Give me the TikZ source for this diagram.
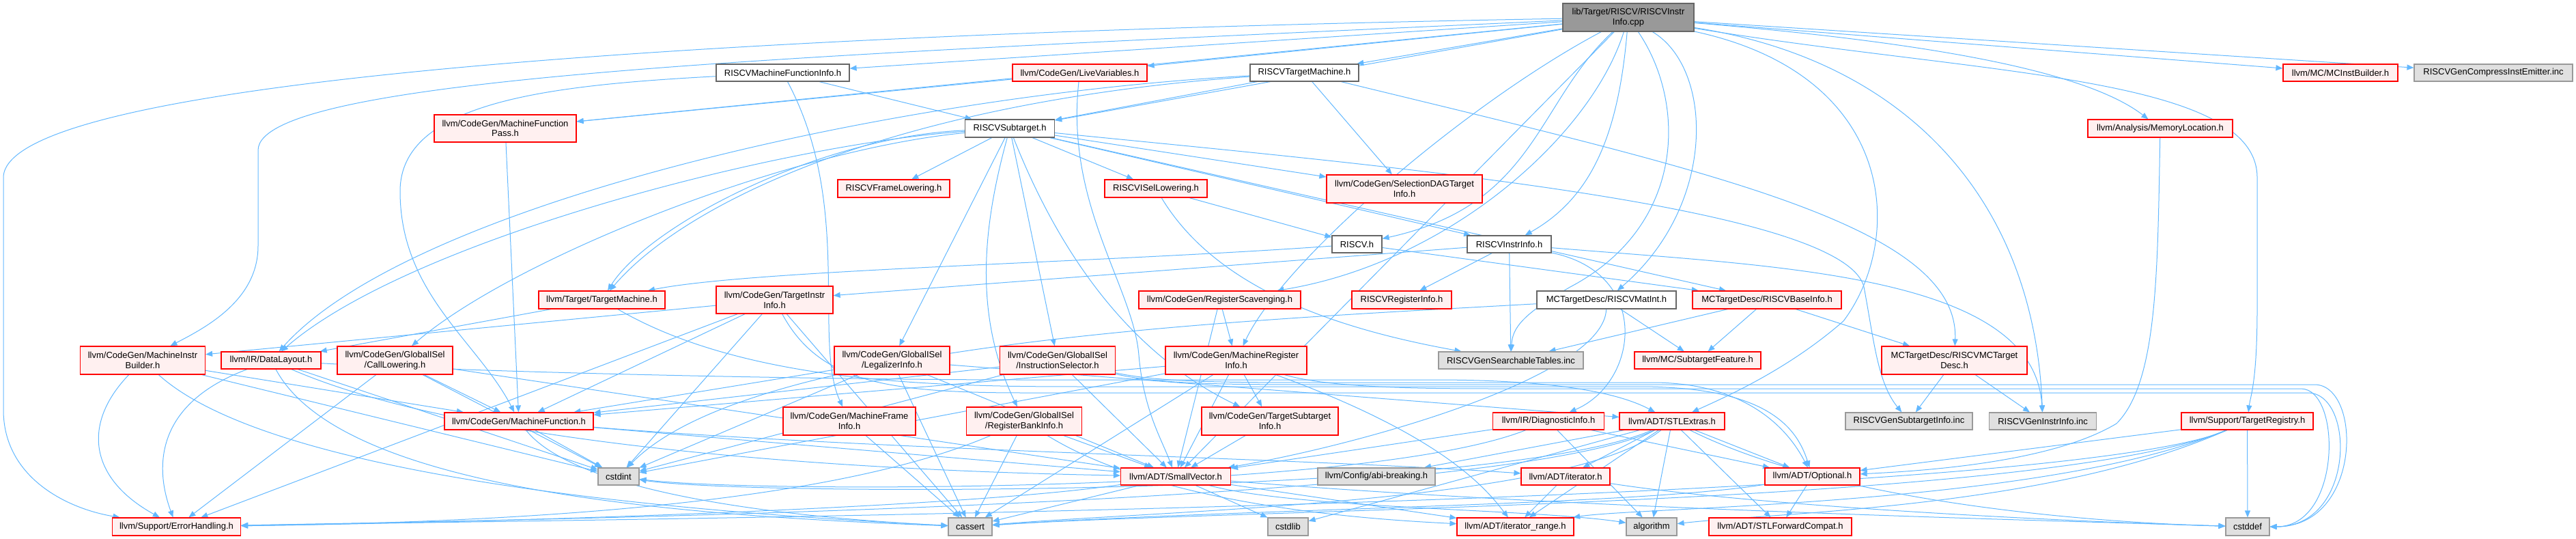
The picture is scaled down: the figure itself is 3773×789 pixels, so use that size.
\documentclass[tikz,border=0pt]{standalone}
\usepackage{fontspec}
\setmainfont{Liberation Sans}
\usetikzlibrary{arrows.meta}
\pgfdeclarelayer{bg}
\pgfsetlayers{bg,main}
\definecolor{edgec}{HTML}{63B8FF}
\definecolor{redfill}{HTML}{FFF0F0}
\definecolor{greyfill}{HTML}{E0E0E0}
\definecolor{greyline}{HTML}{999999}
\definecolor{darkline}{HTML}{666666}
\definecolor{rootfill}{HTML}{999999}
\newcommand\nodefont{\fontsize{13}{14.7}\selectfont}
\tikzset{
  box/.style={rectangle, inner sep=0pt, align=center, font=\nodefont, line width=1.2pt},
  rn/.style 2 args={box, draw=red, fill=redfill, minimum width=#1pt, minimum height=#2pt},
  wn/.style 2 args={box, draw=darkline, fill=white, minimum width=#1pt, minimum height=#2pt},
  gn/.style 2 args={box, draw=greyline, fill=greyfill, minimum width=#1pt, minimum height=#2pt},
  rootn/.style 2 args={box, draw=darkline, fill=rootfill, minimum width=#1pt, minimum height=#2pt},
  ed/.style={draw=edgec, line width=1pt, -{Triangle[length=10pt,width=8pt]}}
}
\begin{document}
\begin{tikzpicture}[x=1pt,y=-1pt]
\useasboundingbox (0,0) rectangle (3773,789);
% ---------- nodes ----------
\node[rootn={192}{41}] (root) at (2385,25.5) {lib/Target/RISCV/RISCVInstr\\Info.cpp};
\node[wn={195}{25}] (mfi) at (1146.5,106.5) {RISCVMachineFunctionInfo.h};
\node[rn={197}{25}] (lv) at (1581.5,106.5) {llvm/CodeGen/LiveVariables.h};
\node[wn={159}{25}] (rtm) at (1910.5,106.5) {RISCVTargetMachine.h};
\node[rn={168}{25}] (mcib) at (3428,106.5) {llvm/MC/MCInstBuilder.h};
\node[gn={232}{25}] (gci) at (3652,106.5) {RISCVGenCompressInstEmitter.inc};
\node[rn={208}{40}] (mfp) at (740,188) {llvm/CodeGen/MachineFunction\\Pass.h};
\node[wn={131}{26}] (sub) at (1479,188) {RISCVSubtarget.h};
\node[rn={212}{26}] (ml) at (3164,188) {llvm/Analysis/MemoryLocation.h};
\node[rn={164}{26}] (rfl) at (1309,276) {RISCVFrameLowering.h};
\node[rn={150}{26}] (isel) at (1693,276) {RISCVISelLowering.h};
\node[rn={228}{41}] (sdag) at (2057,276.5) {llvm/CodeGen/SelectionDAGTarget\\Info.h};
\node[wn={73}{25}] (rv) at (1987.5,357.5) {RISCV.h};
\node[wn={123}{25}] (rii) at (2210.5,357.5) {RISCVInstrInfo.h};
\node[rn={185}{26}] (tm) at (881.5,439) {llvm/Target/TargetMachine.h};
\node[rn={171}{40}] (tii) at (1134.5,439) {llvm/CodeGen/TargetInstr\\Info.h};
\node[rn={237}{26}] (rs) at (1786.5,439) {llvm/CodeGen/RegisterScavenging.h};
\node[rn={146}{26}] (rri) at (2053,439) {RISCVRegisterInfo.h};
\node[wn={204}{26}] (mat) at (2353,439) {MCTargetDesc/RISCVMatInt.h};
\node[rn={218}{26}] (bi) at (2588,439) {MCTargetDesc/RISCVBaseInfo.h};
\node[rn={183}{41}] (mib) at (209,527.5) {llvm/CodeGen/MachineInstr\\Builder.h};
\node[rn={146}{25}] (dl) at (397,527.5) {llvm/IR/DataLayout.h};
\node[rn={169}{41}] (cl) at (578.5,527.5) {llvm/CodeGen/GlobalISel\\/CallLowering.h};
\node[rn={169}{41}] (li) at (1306.5,527.5) {llvm/CodeGen/GlobalISel\\/LegalizerInfo.h};
\node[rn={169}{41}] (is) at (1549,527.5) {llvm/CodeGen/GlobalISel\\/InstructionSelector.h};
\node[rn={207}{41}] (mri) at (1810.5,527.5) {llvm/CodeGen/MachineRegister\\Info.h};
\node[gn={212}{25}] (gst) at (2213,527.5) {RISCVGenSearchableTables.inc};
\node[rn={185}{25}] (sf) at (2486.5,527.5) {llvm/MC/SubtargetFeature.h};
\node[rn={213}{41}] (mcd) at (2862.5,527.5) {MCTargetDesc/RISCVMCTarget\\Desc.h};
\node[rn={218}{25}] (mf) at (760,616.5) {llvm/CodeGen/MachineFunction.h};
\node[rn={194}{41}] (mfri) at (1244,616.5) {llvm/CodeGen/MachineFrame\\Info.h};
\node[rn={169}{41}] (rbi) at (1500,616.5) {llvm/CodeGen/GlobalISel\\/RegisterBankInfo.h};
\node[rn={200}{41}] (tsi) at (1860,616.5) {llvm/CodeGen/TargetSubtarget\\Info.h};
\node[rn={163}{25}] (di) at (2268,616.5) {llvm/IR/DiagnosticInfo.h};
\node[rn={154}{25}] (stl) at (2449,616.5) {llvm/ADT/STLExtras.h};
\node[gn={186}{25}] (gsi) at (2796,616.5) {RISCVGenSubtargetInfo.inc};
\node[gn={157}{25}] (gii) at (2992,616.5) {RISCVGenInstrInfo.inc};
\node[rn={193}{25}] (treg) at (3291.5,616.5) {llvm/Support/TargetRegistry.h};
\node[gn={60}{25}] (cstdint) at (906,697.5) {cstdint};
\node[rn={161}{25}] (sv) at (1722,697.5) {llvm/ADT/SmallVector.h};
\node[gn={172}{25}] (abi) at (2016,697.5) {llvm/Config/abi-breaking.h};
\node[rn={130}{25}] (it) at (2293,697.5) {llvm/ADT/iterator.h};
\node[rn={139}{25}] (opt) at (2654.5,697.5) {llvm/ADT/Optional.h};
\node[rn={188}{26}] (eh) at (258.5,771) {llvm/Support/ErrorHandling.h};
\node[gn={64}{26}] (cassert) at (1421,771) {cassert};
\node[gn={59}{26}] (cstdlib) at (1886.5,771) {cstdlib};
\node[rn={171}{26}] (ir) at (2219.5,771) {llvm/ADT/iterator\_range.h};
\node[gn={74}{26}] (alg) at (2419,771) {algorithm};
\node[rn={209}{26}] (stlfc) at (2607.5,771) {llvm/ADT/STLForwardCompat.h};
\node[gn={64}{26}] (cstddef) at (3292,771) {cstddef};
% ---------- edges ----------
\begin{pgfonlayer}{bg}
% root
\draw[ed] (root) -- (mfi);
\draw[ed] (root) -- (lv);
\draw[ed] (root) -- (rtm);
\draw[ed] (root) -- (mfp);
\draw[ed] (root) -- (sub);
\draw[ed] (root) -- (mcib);
\draw[ed] (root) -- (gci);
\draw[ed] (root) .. controls (2800,60) and (3050,100) .. (ml);
\draw[ed] (root) .. controls (2250,150) and (2250,300) .. (rv);
\draw[ed] (root) .. controls (2370,200) and (2330,290) .. (rii);
\draw[ed] (root) .. controls (2510,100) and (2515,300) .. (mat);
\draw[ed] (root) .. controls (2330,200) and (2120,385) .. (rs);
\draw[ed] (root) .. controls (2150,150) and (1880,380) .. (mri);
\draw[ed] (root) -- (sv);
\draw[ed] (root) .. controls (2780,110) and (2790,350) .. (2700,470) .. controls (2620,540) and (2530,580) .. (stl);
\draw[ed] (root) .. controls (2800,90) and (2980,300) .. (gii);
\draw[ed] (root) .. controls (2470,150) and (2470,330) .. (2300,420) .. controls (2230,460) and (2215,480) .. (gst);
\draw[ed] (root) .. controls (2900,110) and (3306,110) .. (3306,260) -- (3306,450) .. controls (3306,560) and (3296,580) .. (treg);
\draw[ed] (root) .. controls (1000,50) and (5,120) .. (5,260) -- (5,600) .. controls (5,700) and (100,745) .. (eh);
\draw[ed] (root) .. controls (1200,80) and (378,110) .. (378,220) -- (378,360) .. controls (378,440) and (300,480) .. (mib);
% mfi
\draw[ed] (mfi) -- (sub);
\draw[ed] (mfi) .. controls (1250,300) and (1190,500) .. (mfri);
\draw[ed] (mfi) .. controls (800,125) and (586,150) .. (586,280) .. controls (586,430) and (700,500) .. (mf);
% lv
\draw[ed] (lv) -- (mfp);
\draw[ed] (lv) .. controls (1560,300) and (1660,420) .. (1668,520) .. controls (1675,600) and (1700,640) .. (sv);
% rtm
\draw[ed] (rtm) -- (sub);
\draw[ed] (rtm) -- (sdag);
\draw[ed] (rtm) .. controls (2500,250) and (2870,330) .. (mcd);
\draw[ed] (rtm) .. controls (1300,150) and (1000,300) .. (tm);
\draw[ed] (rtm) .. controls (1300,140) and (600,300) .. (dl);
% mfp
\draw[ed] (mfp) -- (mf);
% sub
\draw[ed] (sub) -- (rfl);
\draw[ed] (sub) -- (isel);
\draw[ed] (sub) -- (sdag);
\draw[ed] (sub) -- (rii);
\draw[ed] (sub) -- (bi);
\draw[ed] (sub) .. controls (1200,200) and (950,330) .. (tm);
\draw[ed] (sub) .. controls (1150,210) and (600,350) .. (dl);
\draw[ed] (sub) .. controls (1150,220) and (750,380) .. (cl);
\draw[ed] (sub) -- (li);
\draw[ed] (sub) -- (is);
\draw[ed] (sub) .. controls (1440,330) and (1425,460) .. (rbi);
\draw[ed] (sub) .. controls (1555,380) and (1660,520) .. (tsi);
\draw[ed] (sub) .. controls (2000,240) and (2700,300) .. (2730,420) .. controls (2745,500) and (2750,560) .. (gsi);
% isel
\draw[ed] (isel) -- (rv);
\draw[ed] (isel) .. controls (1780,420) and (1950,480) .. (gst);
% rv
\draw[ed] (rv) .. controls (1600,385) and (1100,395) .. (tm);
\draw[ed] (rv) -- (bi);
% rii
\draw[ed] (rii) -- (rri);
\draw[ed] (rii) -- (tii);
\draw[ed] (rii) .. controls (2420,400) and (2400,560) .. (di);
\draw[ed] (rii) .. controls (2600,390) and (2980,400) .. (gii);
\draw[ed] (rii) -- (gst);
% ml
\draw[ed] (ml) .. controls (3160,400) and (3160,560) .. (3100,620) .. controls (3000,680) and (2800,690) .. (opt);
% tm
\draw[ed] (tm) -- (dl);
\draw[ed] (tm) .. controls (1100,566) and (1400,566) .. (1600,566) -- (2400,566) .. controls (2580,566) and (2630,620) .. (opt);
% tii
\draw[ed] (tii) -- (mib);
\draw[ed] (tii) -- (mf);
\draw[ed] (tii) -- (eh);
\draw[ed] (tii) -- (cassert);
\draw[ed] (tii) -- (cstdint);
\draw[ed] (tii) .. controls (1200,560) and (1300,575) .. (1500,575) -- (3380,575) .. controls (3450,575) and (3450,771) .. (cstddef);
% rs
\draw[ed] (rs) -- (mri);
\draw[ed] (rs) -- (sv);
% mat
\draw[ed] (mat) -- (sf);
\draw[ed] (mat) .. controls (2350,550) and (2000,650) .. (sv);
\draw[ed] (mat) .. controls (1800,470) and (1100,500) .. (cstdint);
% bi
\draw[ed] (bi) -- (sf);
\draw[ed] (bi) -- (mcd);
\draw[ed] (bi) -- (gst);
% mib
\draw[ed] (mib) -- (mf);
\draw[ed] (mib) .. controls (120,620) and (130,700) .. (eh);
\draw[ed] (mib) .. controls (400,700) and (1000,750) .. (cassert);
\draw[ed] (mib) -- (cstdint);
% dl
\draw[ed] (dl) .. controls (700,545) and (1200,556) .. (1500,556) -- (2100,556) .. controls (2300,556) and (2380,580) .. (stl);
\draw[ed] (dl) .. controls (700,660) and (1300,690) .. (sv);
\draw[ed] (dl) .. controls (230,590) and (225,680) .. (eh);
\draw[ed] (dl) .. controls (500,720) and (1000,755) .. (cassert);
\draw[ed] (dl) -- (cstdint);
% cl
\draw[ed] (cl) -- (mf);
\draw[ed] (cl) -- (sv);
\draw[ed] (cl) -- (eh);
\draw[ed] (cl) -- (cstdint);
% li
\draw[ed] (li) -- (mf);
\draw[ed] (li) -- (sv);
\draw[ed] (li) -- (stl);
\draw[ed] (li) -- (cassert);
\draw[ed] (li) -- (cstdint);
% is
\draw[ed] (is) -- (mf);
\draw[ed] (is) -- (sv);
\draw[ed] (is) .. controls (1700,560) and (1800,560) .. (1950,560) -- (2420,560) .. controls (2560,560) and (2620,630) .. (opt);
\draw[ed] (is) .. controls (1700,563) and (1800,563) .. (1950,563) -- (3390,563) .. controls (3460,563) and (3460,771) .. (cstddef);
\draw[ed] (is) -- (cstdint);
% mri
\draw[ed] (mri) -- (mf);
\draw[ed] (mri) -- (tsi);
\draw[ed] (mri) -- (sv);
\draw[ed] (mri) .. controls (2120,640) and (2180,720) .. (ir);
\draw[ed] (mri) -- (cassert);
\draw[ed] (mri) .. controls (1950,569) and (2100,569) .. (2200,569) -- (3370,569) .. controls (3430,569) and (3430,771) .. (cstddef);
\draw[ed] (mri) -- (cstdint);
% mcd
\draw[ed] (mcd) -- (gsi);
\draw[ed] (mcd) -- (gii);
% mf
\draw[ed] (mf) -- (sv);
\draw[ed] (mf) .. controls (1300,660) and (1900,670) .. (it);
\draw[ed] (mf) .. controls (850,730) and (1200,760) .. (cassert);
\draw[ed] (mf) -- (cstdint);
% mfri
\draw[ed] (mfri) -- (cassert);
% rbi
\draw[ed] (rbi) -- (sv);
\draw[ed] (rbi) .. controls (1700,740) and (2000,760) .. (ir);
\draw[ed] (rbi) .. controls (1200,745) and (700,765) .. (eh);
\draw[ed] (rbi) -- (cassert);
% tsi
\draw[ed] (tsi) -- (sv);
% di
\draw[ed] (di) -- (sv);
\draw[ed] (di) -- (opt);
\draw[ed] (di) -- (alg);
\draw[ed] (di) .. controls (2000,722) and (1100,722) .. (cstdint);
% stl
\draw[ed] (stl) -- (opt);
\draw[ed] (stl) -- (stlfc);
\draw[ed] (stl) -- (it);
\draw[ed] (stl) -- (ir);
\draw[ed] (stl) -- (abi);
\draw[ed] (stl) .. controls (2200,742) and (700,762) .. (eh);
\draw[ed] (stl) -- (alg);
\draw[ed] (stl) .. controls (2300,737) and (1700,747) .. (cassert);
\draw[ed] (stl) .. controls (2700,742) and (3100,766) .. (cstddef);
\draw[ed] (stl) .. controls (2200,727) and (1100,727) .. (cstdint);
\draw[ed] (stl) -- (cstdlib);
% treg
\draw[ed] (treg) -- (opt);
\draw[ed] (treg) .. controls (3000,740) and (2400,742) .. (ir);
\draw[ed] (treg) .. controls (3000,745) and (700,762) .. (eh);
\draw[ed] (treg) .. controls (3000,745) and (2600,750) .. (alg);
\draw[ed] (treg) .. controls (3000,740) and (1800,745) .. (cassert);
\draw[ed] (treg) -- (cstddef);
% sv
\draw[ed] (sv) -- (ir);
\draw[ed] (sv) .. controls (1400,745) and (700,765) .. (eh);
\draw[ed] (sv) .. controls (1900,745) and (2250,745) .. (alg);
\draw[ed] (sv) -- (cassert);
\draw[ed] (sv) .. controls (2300,745) and (3000,762) .. (cstddef);
\draw[ed] (sv) -- (cstdlib);
% it
\draw[ed] (it) -- (ir);
\draw[ed] (it) .. controls (2600,745) and (3100,766) .. (cstddef);
% opt
\draw[ed] (opt) -- (stlfc);
\draw[ed] (opt) .. controls (2400,740) and (1800,745) .. (cassert);
\end{pgfonlayer}
\end{tikzpicture}
\end{document}
